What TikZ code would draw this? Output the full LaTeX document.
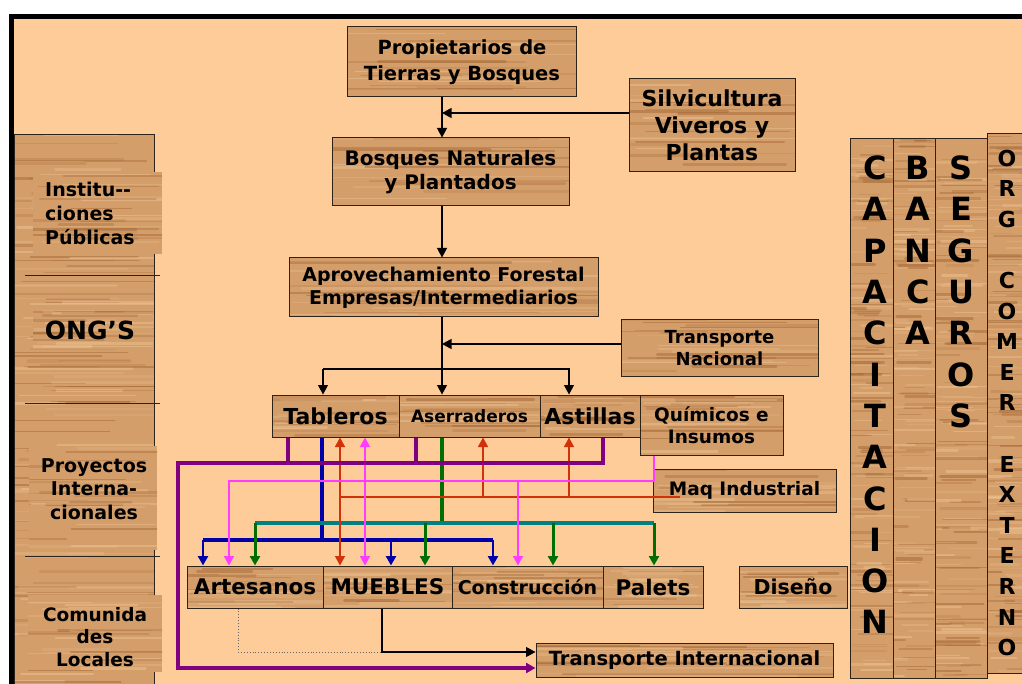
\documentclass[tikz,border=0pt]{standalone}
\usepackage{fontspec}
\setmainfont{DejaVu Sans}
\usetikzlibrary{arrows.meta,calc}

\definecolor{peach}{RGB}{253,204,153}
\definecolor{woodbase}{RGB}{212,158,106}
\definecolor{wooddark}{RGB}{160,100,50}
\definecolor{woodlight}{RGB}{238,198,150}
\definecolor{edge}{RGB}{45,35,25}
\definecolor{cpurple}{RGB}{128,0,128}
\definecolor{cblue}{RGB}{0,0,170}
\definecolor{cgreen}{RGB}{0,110,0}
\definecolor{cteal}{RGB}{0,128,128}
\definecolor{cred}{RGB}{210,50,10}
\definecolor{cmag}{RGB}{255,60,255}

\tikzset{
  % horizontal wood grain streaks, #1 = number of streaks
  grain/.style={path picture={
    \foreach \k in {1,...,#1}{
      \pgfmathsetmacro\grY{rnd}
      \pgfmathsetmacro\grA{-0.2+0.6*rnd}
      \pgfmathsetmacro\grB{\grA+0.4+0.8*rnd}
      \pgfmathsetmacro\grW{0.6+2.6*rnd}
      \pgfmathsetmacro\grO{0.15+0.35*rnd}
      \pgfmathsetmacro\grT{rnd}
      \ifdim\grT pt<0.5pt\def\grC{wooddark}\else\def\grC{woodlight}\fi
      \draw[draw=\grC, line width=\grW pt, opacity=\grO, line cap=round]
        let \p1=(path picture bounding box.south west),
            \p2=(path picture bounding box.north east) in
        ({\x1+\grA*(\x2-\x1)},{\y1+\grY*(\y2-\y1)}) --
        ({\x1+\grB*(\x2-\x1)},{\y1+\grY*(\y2-\y1)});
    }}},
  fsz/.style 2 args={font=\bfseries\fontsize{#1}{#2}\selectfont},
  box/.style={draw=edge, line width=1, fill=woodbase, inner sep=0pt,
    align=center, text=black, grain=20},
  patch/.style={fill=woodbase, inner sep=0pt, grain=22},
  lab/.style={inner sep=0pt, text=black},
  colL/.style={inner sep=0pt, text=black, fsz={32}{32}},
  orgL/.style={inner sep=0pt, text=black, fsz={22}{22}},
  blk/.style={draw=black, line width=1.1},
  pur/.style={draw=cpurple, line width=4},
  blu/.style={draw=cblue, line width=4},
  blud/.style={draw=cblue, line width=2.5},
  grn/.style={draw=cgreen, line width=4.5},
  grnd/.style={draw=cgreen, line width=3},
  tealbus/.style={draw=cteal, line width=3.5},
  redl/.style={draw=cred, line width=1.5},
  magl/.style={draw=cmag, line width=1.5},
}

\begin{document}
\begin{tikzpicture}[x=1pt,y=-1pt,>={Triangle[width=10pt,length=9.5pt]}]
\pgfmathsetseed{2024}
\useasboundingbox (0,0) rectangle (1022,684);

% page frame
\fill[white] (0,0) rectangle (1022,684);
\fill[peach] (14,19) rectangle (1022,684);
\fill[black] (9,14) rectangle (1022,19);
\fill[black] (9,14) rectangle (14,684);

% left column of supporting actors
\node[box, line width=0.6, grain=140, minimum width=140, minimum height=550] (leftcol) at (84,409) {};
\node[patch, minimum width=129, minimum height=82] (p1) at (97.5,213) {};
\node[patch, minimum width=120, minimum height=43] (p2) at (93,327.5) {};
\node[patch, minimum width=128, minimum height=104] (p3) at (93,498) {};
\node[patch, minimum width=134, minimum height=77] (p4) at (95,633.5) {};
\draw[edge, line width=0.8] (25,275) -- (160,275);
\draw[edge, line width=0.8] (25,403) -- (160,403);
\draw[edge, line width=0.8] (25,556) -- (160,556);
\node[lab, fsz={19}{24}, align=left, anchor=west] (inst) at (45,213.5) {Institu-{}-\\ciones\\Públicas};
\node[lab, fsz={25}{30}] (ongs) at (90,330) {ONG’S};
\node[lab, fsz={19}{23.5}, align=center] (proy) at (94,489) {Proyectos\\Interna-\\cionales};
\node[lab, fsz={18.5}{22.5}, align=center] (comu) at (95,637) {Comunida\\des\\Locales};

% right columns
\node[box, grain=140, minimum width=43, minimum height=539] (cap) at (871.5,408.5) {};
\node[box, grain=140, minimum width=42, minimum height=539] (banca) at (914,408.5) {};
\node[box, grain=140, minimum width=52, minimum height=539] (seg) at (961,408.5) {};
\node[box, grain=140, minimum width=53, minimum height=539] (org) at (1013.5,403.5) {};
\foreach \l [count=\i] in {C,A,P,A,C,I,T,A,C,I,O,N}
  \node[colL] (capl\i) at (875,{168+41.3*(\i-1)}) {\l};
\foreach \l [count=\i] in {B,A,N,C,A}
  \node[colL] (banl\i) at (918,{168+41.3*(\i-1)}) {\l};
\foreach \l [count=\i] in {S,E,G,U,R,O,S}
  \node[colL] (segl\i) at (961,{168+41.3*(\i-1)}) {\l};
\foreach \l/\s [count=\i] in {O/0,R/1,G/2,C/4,O/5,M/6,E/7,R/8,E/10,X/11,T/12,E/13,R/14,N/15,O/16}
  \node[orgL] (orgl\i) at (1007,{158+30.6*\s}) {\l};

% main chain
\node[box, fsz={19.5}{26}, minimum width=229, minimum height=70] (prop) at (462,62) {Propietarios de\\Tierras y Bosques};
\node[box, fsz={22}{27}, minimum width=166, minimum height=93] (silv) at (712,125.5) {Silvicultura\\Viveros y\\Plantas};
\node[box, fsz={20}{24.5}, minimum width=237, minimum height=68] (bosq) at (450.5,172) {Bosques Naturales\\y Plantados};
\node[box, fsz={19}{23}, minimum width=309, minimum height=59] (aprov) at (443.5,287.5) {Aprovechamiento Forestal\\Empresas/Intermediarios};
\node[box, fsz={18}{22}, minimum width=197, minimum height=56] (tnac) at (719.5,348) {Transporte\\Nacional};

% processing row
\node[box, fsz={22}{26}, minimum width=127, minimum height=42] (tab) at (335.5,416) {Tableros};
\node[box, fsz={17}{20}, minimum width=141, minimum height=42] (aser) at (469.5,416) {Aserraderos};
\node[box, fsz={22}{26}, minimum width=100, minimum height=42] (ast) at (590,416) {Astillas};
\node[box, fsz={18.5}{22}, minimum width=143, minimum height=60] (quim) at (711.5,425) {Químicos e\\Insumos};
\node[box, fsz={18.5}{21}, minimum width=183, minimum height=43] (maq) at (744.5,490.5) {Maq Industrial};

% product row
\node[box, fsz={21.5}{25}, minimum width=136, minimum height=42] (art) at (255,587) {Artesanos};
\node[box, fsz={21.5}{25}, minimum width=129, minimum height=42] (mue) at (387.5,587) {MUEBLES};
\node[box, fsz={19}{23}, minimum width=151, minimum height=42] (cons) at (527.5,587) {Construcción};
\node[box, fsz={21.5}{25}, minimum width=100, minimum height=42] (pal) at (653,587) {Palets};
\node[box, fsz={20.5}{24}, minimum width=108, minimum height=42] (dis) at (793,587) {Diseño};
\node[box, fsz={19.5}{23}, minimum width=297, minimum height=34] (tint) at (684.5,660) {Transporte Internacional};

% black flow
\coordinate (spine) at (442,0);
\draw[blk,->] (prop.south -| spine) -- (bosq.north -| spine);
\draw[blk,->] (silv.west |- 0,113) -- (spine |- 0,113);
\draw[blk,->] (bosq.south -| spine) -- (aprov.north -| spine);
\draw[blk,->] (aprov.south -| spine) -- (aser.north -| spine);
\draw[blk,->] (tnac.west |- 0,344) -- (spine |- 0,344);
\draw[blk,->] (323,369) -- (tab.north -| 323,0);
\draw[blk,->] (323,369) -- (569,369) -- (ast.north -| 569,0);

% blue: tableros
\draw[blu] (tab.south -| 322,0) -- (322,540);
\draw[blu] (203,540) -- (493,540);
\foreach \xx/\tg in {203/art,391/mue,493/cons}
  \draw[blud,->] (\xx,540) -- (\tg.north -| \xx,0);

% green: aserraderos
\draw[grn] (aser.south -| spine) -- (spine |- 0,523);
\draw[tealbus] (255,523) -- (654,523);
\foreach \xx/\tg in {255/art,425/mue,553/cons,654/pal}
  \draw[grnd,->] (\xx,523) -- (\tg.north -| \xx,0);

% red: maquinaria industrial
\draw[redl,<->] (tab.south -| 340,0) -- (mue.north -| 340,0);
\draw[redl] (340,497) -- ($(maq.west |- 0,497)+(27,0)$);
\draw[redl,->] (483,497) -- (aser.south -| 483,0);
\draw[redl,->] (569,497) -- (ast.south -| 569,0);

% magenta: quimicos e insumos
\draw[magl,->] (quim.south -| 654,0) -- (654,481) -- (229,481) -- (art.north -| 229,0);
\draw[magl,->] (518,481) -- (cons.north -| 518,0);
\draw[magl,<->] (tab.south -| 365,0) -- (mue.north -| 365,0);

% purple: to international transport
\draw[pur] (tab.south -| 288,0) -- (288,463);
\draw[pur] (aser.south -| 416,0) -- (416,463);
\draw[pur,->] (ast.south -| 603,0) -- (603,463) -- (178,463) -- (178,668) -- (tint.west |- 0,668);

% bottom links
\draw[dotted, draw=black!60, line width=0.9] (art.south -| 238,0) -- (238,652) -- (382,652);
\draw[blk,->] (mue.south -| 382,0) -- (382,652) -- (tint.west |- 0,652);
\end{tikzpicture}
\end{document}
